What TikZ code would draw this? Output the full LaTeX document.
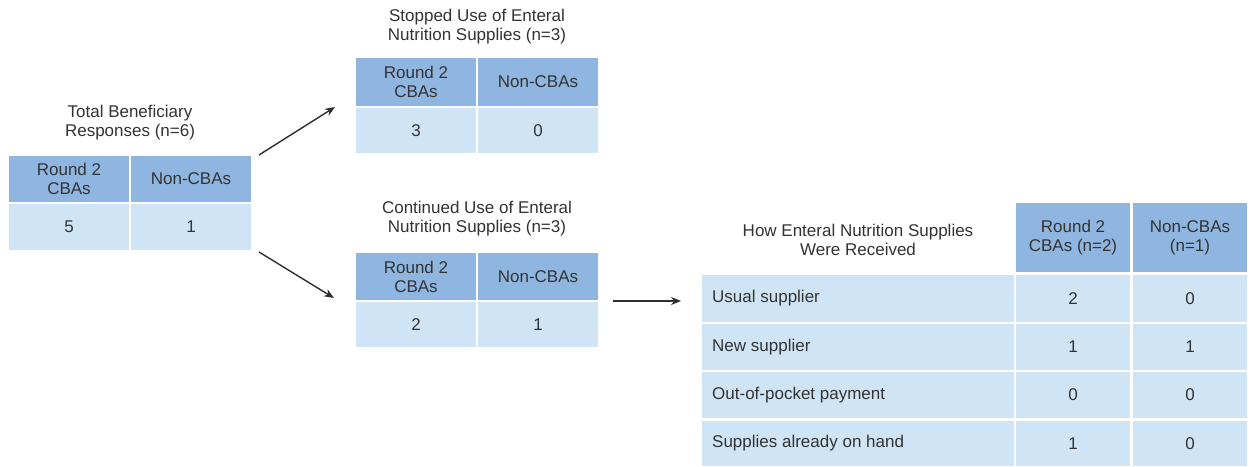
\documentclass[tikz,border=0pt]{standalone}
\usepackage{fontspec}
\setmainfont{Liberation Sans}
\usetikzlibrary{arrows.meta}
\definecolor{hdr}{HTML}{8FB6E0}
\definecolor{dat}{HTML}{CFE5F6}
\definecolor{ink}{HTML}{333333}
\definecolor{arr}{HTML}{2E2E2E}
\begin{document}
\begin{tikzpicture}[x=1pt,y=-1pt,
  every node/.style={font=\fontsize{17}{19}\selectfont, text=ink, inner sep=0pt, align=center},
  hcell/.style={fill=hdr},
  dcell/.style={fill=dat},
  ttl/.style={},
  conn/.style={draw=arr, line width=1.4pt, -{Stealth[length=10pt,width=8pt]}}]
\useasboundingbox[fill=white] (0,0) rectangle (1253,466);

% ---- Left table
\node[ttl] (t0) at (130,123) {Total Beneficiary\\Responses (n=6)};
\node[hcell, minimum width=120pt, minimum height=46pt] (l11) at (69,179) {Round 2\\CBAs};
\node[hcell, minimum width=120pt, minimum height=46pt] (l12) at (191,179) {Non-CBAs};
\node[dcell, minimum width=120pt, minimum height=46pt] (l21) at (69,227) {5};
\node[dcell, minimum width=120pt, minimum height=46pt] (l22) at (191,227) {1};

% ---- Stopped table
\node[ttl] (t1) at (477,27) {Stopped Use of Enteral\\Nutrition Supplies (n=3)};
\node[hcell, minimum width=120pt, minimum height=48pt] (s11) at (416,82) {Round 2\\CBAs};
\node[hcell, minimum width=120pt, minimum height=48pt] (s12) at (538,82) {Non-CBAs};
\node[dcell, minimum width=120pt, minimum height=45pt] (s21) at (416,130.5) {3};
\node[dcell, minimum width=120pt, minimum height=45pt] (s22) at (538,130.5) {0};

% ---- Continued table
\node[ttl] (t2) at (477,219) {Continued Use of Enteral\\Nutrition Supplies (n=3)};
\node[hcell, minimum width=120pt, minimum height=47pt] (c11) at (416,276.5) {Round 2\\CBAs};
\node[hcell, minimum width=120pt, minimum height=47pt] (c12) at (538,276.5) {Non-CBAs};
\node[dcell, minimum width=120pt, minimum height=45pt] (c21) at (416,324.5) {2};
\node[dcell, minimum width=120pt, minimum height=45pt] (c22) at (538,324.5) {1};

% ---- Right table
\node (r0) at (858,240) {How Enteral Nutrition Supplies\\Were Received};
\node[hcell, minimum width=114pt, minimum height=69pt] (r02) at (1073,237.5) {Round 2\\CBAs (n=2)};
\node[hcell, minimum width=114pt, minimum height=69pt] (r03) at (1190,237.5) {Non-CBAs\\(n=1)};

\node[dcell, minimum width=312pt, minimum height=47pt] (r11) at (858,298.5) {};
\node[dcell, minimum width=114pt, minimum height=47pt] (r12) at (1073,298.5) {2};
\node[dcell, minimum width=114pt, minimum height=47pt] (r13) at (1190,298.5) {0};
\node[dcell, minimum width=312pt, minimum height=46pt] (r21) at (858,347) {};
\node[dcell, minimum width=114pt, minimum height=46pt] (r22) at (1073,347) {1};
\node[dcell, minimum width=114pt, minimum height=46pt] (r23) at (1190,347) {1};
\node[dcell, minimum width=312pt, minimum height=46pt] (r31) at (858,395) {};
\node[dcell, minimum width=114pt, minimum height=46pt] (r32) at (1073,395) {0};
\node[dcell, minimum width=114pt, minimum height=46pt] (r33) at (1190,395) {0};
\node[dcell, minimum width=312pt, minimum height=45pt] (r41) at (858,443.5) {};
\node[dcell, minimum width=114pt, minimum height=45pt] (r42) at (1073,443.5) {1};
\node[dcell, minimum width=114pt, minimum height=45pt] (r43) at (1190,443.5) {0};

\node[anchor=west] (lab1) at (712,298.5) {Usual supplier};
\node[anchor=west] (lab2) at (712,347) {New supplier};
\node[anchor=west] (lab3) at (712,395) {Out-of-pocket payment};
\node[anchor=west] (lab4) at (712,443.5) {Supplies already on hand};

% ---- Connectors
\coordinate (a1s) at (259,155);
\coordinate (a1e) at (335,107);
\coordinate (a2s) at (259,252);
\coordinate (a2e) at (334,298);
\coordinate (a3s) at (613,301);
\coordinate (a3e) at (681,301);
\draw[conn] (a1s) -- (a1e);
\draw[conn] (a2s) -- (a2e);
\draw[conn] (a3s) -- (a3e);
\end{tikzpicture}
\end{document}
